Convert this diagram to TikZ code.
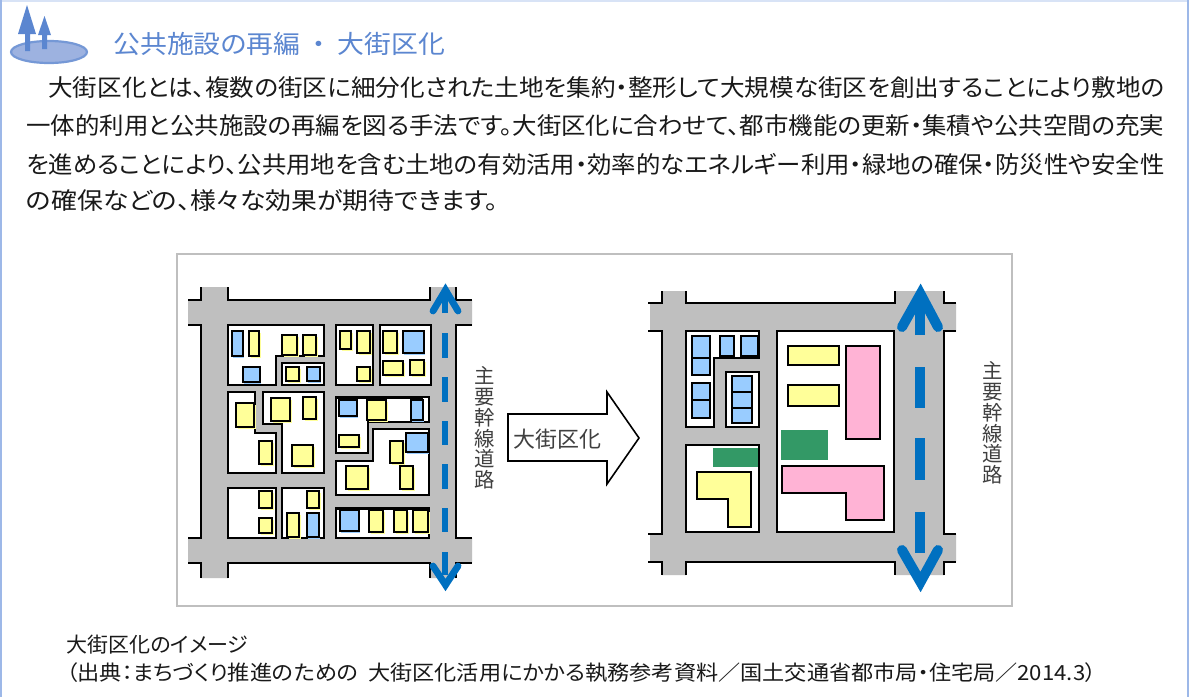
\documentclass[tikz,border=0pt]{standalone}
\usepackage{fontspec}
\usepackage{graphicx}
\setmainfont{Noto Sans CJK JP}[RawFeature={+palt}]
\definecolor{roadgray}{HTML}{BFBFBF}
\definecolor{bldyellow}{HTML}{FFFF99}
\definecolor{bldblue}{HTML}{99CCFF}
\definecolor{bldpink}{HTML}{FFB3D5}
\definecolor{bldgreen}{HTML}{339966}
\definecolor{mainblue}{HTML}{0070C0}
\definecolor{headblue}{HTML}{5B86D0}
\definecolor{logofill}{HTML}{9DB2E0}
\definecolor{edgeblue}{HTML}{9DB8E8}
\newcommand{\textrow}[2]{\resizebox{#1}{\height}{#2}}
\tikzset{
  roadline/.style={draw=black,line width=1pt},
  blocklot/.style={draw=black,fill=white,line width=1.1pt},
  bldline/.style={draw=black,line width=1.4pt},
  bodytext/.style={anchor=west,inner sep=0pt,text=black!90,font=\fontsize{11.8}{14}\selectfont},
  notetext/.style={anchor=west,inner sep=0pt,text=black!90,font=\fontsize{10.4}{13}\selectfont},
  roadname/.style={inner sep=0pt,align=center,text=black!75,font=\fontsize{10.2}{10.4}\selectfont},
}
\begin{document}
\begin{tikzpicture}[x=0.5pt,y=-0.5pt]
\useasboundingbox (0,0) rectangle (1189,697);
\fill[white] (0,0) rectangle (1189,697);
\fill[edgeblue!40] (0,0) rectangle (1189,1.5);
\fill[edgeblue] (0,0) rectangle (2,697);
\fill[edgeblue] (1187,0) rectangle (1189,697);
\draw[logofill!40!headblue,fill=logofill,line width=1.1pt] (49,52) ellipse (38 and 11);
\fill[headblue] (27,5) -- (36,34) -- (30,34) -- (30,51) -- (25,51) -- (25,34) -- (18,34) -- cycle;
\fill[headblue] (44.5,16) -- (51,35) -- (47,35) -- (47,49) -- (42,49) -- (42,35) -- (38,35) -- cycle;
\node[anchor=west,inner sep=0pt,text=headblue,font=\fontsize{12.6}{15}\selectfont] (headline) at (113,44) {\textrow{166pt}{公共施設の再編\ \ ・\ \ 大街区化}};
\node[bodytext] (row1) at (48,88) {\textrow{558pt}{大街区化とは、複数の街区に細分化された土地を集約・整形して大規模な街区を創出することにより敷地の}};
\node[bodytext] (row2) at (26,126) {\textrow{569pt}{一体的利用と公共施設の再編を図る手法です。大街区化に合わせて、都市機能の更新・集積や公共空間の充実}};
\node[bodytext] (row3) at (26,164) {\textrow{569pt}{を進めることにより、公共用地を含む土地の有効活用・効率的なエネルギー利用・緑地の確保・防災性や安全性}};
\node[bodytext] (row4) at (26,201) {\textrow{236pt}{の確保などの、様々な効果が期待できます。}};
\draw[roadgray,line width=1pt,fill=white] (177,254) rectangle (1012,606);
\fill[roadgray] (188,300) rectangle (472,325) (188,538) rectangle (472,563)
  (201,287) rectangle (228,578) (430,287) rectangle (456,578) (228,325) rectangle (430,538);
\draw[roadline] (188,300) -- (201,300) -- (201,287) (228,287) -- (228,300) -- (430,300) -- (430,287) (456,287) -- (456,300) -- (472,300)
  (188,325) -- (201,325) -- (201,538) -- (188,538) (472,325) -- (456,325) -- (456,538) -- (472,538)
  (188,563) -- (201,563) -- (201,578) (228,578) -- (228,563) -- (430,563) -- (430,578) (456,578) -- (456,563) -- (472,563);
\draw[blocklot] (228,325) -- (324,325) -- (324,356) -- (276,356) -- (276,385) -- (228,385) -- cycle;
\draw[blocklot] (228,392) -- (255,392) -- (255,433) -- (276,433) -- (276,473) -- (228,473) -- cycle;
\draw[blocklot] (263,392) -- (324,392) -- (324,473) -- (282,473) -- (282,424) -- (263,424) -- cycle;
\draw[blocklot] (336,397) -- (429,397) -- (429,422) -- (368,422) -- (368,453) -- (336,453) -- cycle;
\draw[blocklot] (336,461) -- (373,461) -- (373,429) -- (429,429) -- (429,495) -- (336,495) -- cycle;
\foreach \a/\b/\c/\d in {282/363/324/385,336/325/373/385,380/325/431/385,228/488/276/538,282/488/324/538,336/508/429/538}
  \draw[blocklot] (\a,\b) rectangle (\c,\d);
\foreach \a/\b/\c/\d in {249/331/259/356,282/335/297/355,303/335/316/355,286/367/299/381,340/331/351/349,357/331/370/353,357/367/370/381,383/331/397/353,383/361/403/375,410/360/424/375,236/403/254/427,259/441/272/464,271/398/290/421,303/397/316/419,292/445/313/466,367/400/386/420,339/435/359/447,390/441/403/463,400/466/413/489,346/466/368/489,259/491/272/508,259/518/272/533,307/491/319/508,287/513/299/537,369/510/383/532,394/510/407/532,413/510/428/532}{
  \fill[bldyellow] (\a+2,\b+2) rectangle (\c+2,\d+2);
  \draw[bldline,fill=bldyellow] (\a,\b) rectangle (\c,\d);
}
\foreach \a/\b/\c/\d in {232/331/243/356,243/367/260/382,307/367/320/381,403/331/424/353,339/400/357/416,411/400/423/420,406/433/428/452,307/513/319/537,340/510/359/531}{
  \fill[bldblue] (\a+1,\b+2) rectangle (\c+1,\d+2);
  \draw[bldline,fill=bldblue] (\a,\b) rectangle (\c,\d);
}
\draw[bldline] (336,398) -- (423,398) (336,509) -- (429,509);
\foreach \a/\b in {333/358,377/402,421/445,464/489,508/532}
  \draw[mainblue,line width=3pt] (445,\a) -- (445,\b);
\draw[mainblue,line width=3pt] (445,313) -- (445,292);
\draw[mainblue,line width=3.4pt,line cap=round] (433,311) -- (445.5,290) -- (458,311);
\draw[mainblue,line width=3pt] (445,552) -- (445,575);
\draw[mainblue,line width=3.4pt,line cap=round] (433,566) -- (445.5,585) -- (458,566);
\node[roadname] (trunkleft) at (485,428) {主\\要\\幹\\線\\道\\路};
\draw[black,line width=0.8pt,fill=white] (508,414) -- (607,414) -- (607,392) -- (639,438) -- (607,484) -- (607,461) -- (508,461) -- cycle;
\node[inner sep=0pt,text=black!75,font=\fontsize{11}{13}\selectfont] (mergelabel) at (557,439) {大街区化};
\fill[roadgray] (650,303) rectangle (956,331) (650,534) rectangle (956,562)
  (662,291) rectangle (686,575) (895,291) rectangle (944,575) (686,331) rectangle (895,534);
\draw[roadline] (648,303) -- (662,303) -- (662,291) (686,291) -- (686,303) -- (895,303) -- (895,291) (944,291) -- (944,303) -- (956,303)
  (648,331) -- (662,331) -- (662,534) -- (648,534) (956,331) -- (944,331) -- (944,534) -- (956,534)
  (648,562) -- (662,562) -- (662,575) (686,575) -- (686,562) -- (895,562) -- (895,575) (944,575) -- (944,562) -- (956,562);
\draw[blocklot] (686,331) -- (759,331) -- (759,358) -- (714,358) -- (714,427) -- (686,427) -- cycle;
\foreach \a/\b/\c/\d in {726/372/759/427,777/331/894/532,686/445/759/532}
  \draw[blocklot] (\a,\b) rectangle (\c,\d);
\foreach \a/\b/\c/\d in {692/336/710/358,692/358/710/375,720/336/734/356,741/336/758/356,692/383/710/400,692/400/710/418,732/376/752/392,732/392/752/408,732/408/752/423}
  \draw[bldline,fill=bldblue] (\a,\b) rectangle (\c,\d);
\foreach \a/\b/\c/\d in {788/346/839/365,788/385/839/406}
  \draw[bldline,fill=bldyellow] (\a,\b) rectangle (\c,\d);
\draw[bldline,fill=bldpink] (846,346) rectangle (880,439);
\fill[bldgreen] (781,430) rectangle (828,460);
\fill[bldgreen] (713,448) rectangle (758,467);
\draw[bldline,fill=bldpink] (782,466) -- (884,466) -- (884,520) -- (846,520) -- (846,493) -- (782,493) -- cycle;
\draw[bldline,fill=bldyellow] (697,472) -- (751,472) -- (751,527) -- (728,527) -- (728,499) -- (697,499) -- cycle;
\foreach \a/\b in {367/408,438/480,512/553}
  \draw[mainblue,line width=5pt] (920,\a) -- (920,\b);
\draw[mainblue,line width=5pt] (920,335) -- (920,300);
\draw[mainblue,line width=5pt,line cap=round] (902,327) -- (920.5,294) -- (938,327);
\draw[mainblue,line width=5pt,line cap=round] (902,550) -- (920.5,582) -- (938,550);
\node[roadname] (trunkright) at (993,423) {主\\要\\幹\\線\\道\\路};
\node[notetext] (note1) at (66,645) {\textrow{91pt}{大街区化のイメージ}};
\node[notetext] (note2) at (66,673) {\textrow{515pt}{（出典：まちづくり推進のための\ \ 大街区化活用にかかる執務参考資料／国土交通省都市局・住宅局／2014.3）}};
\end{tikzpicture}
\end{document}
